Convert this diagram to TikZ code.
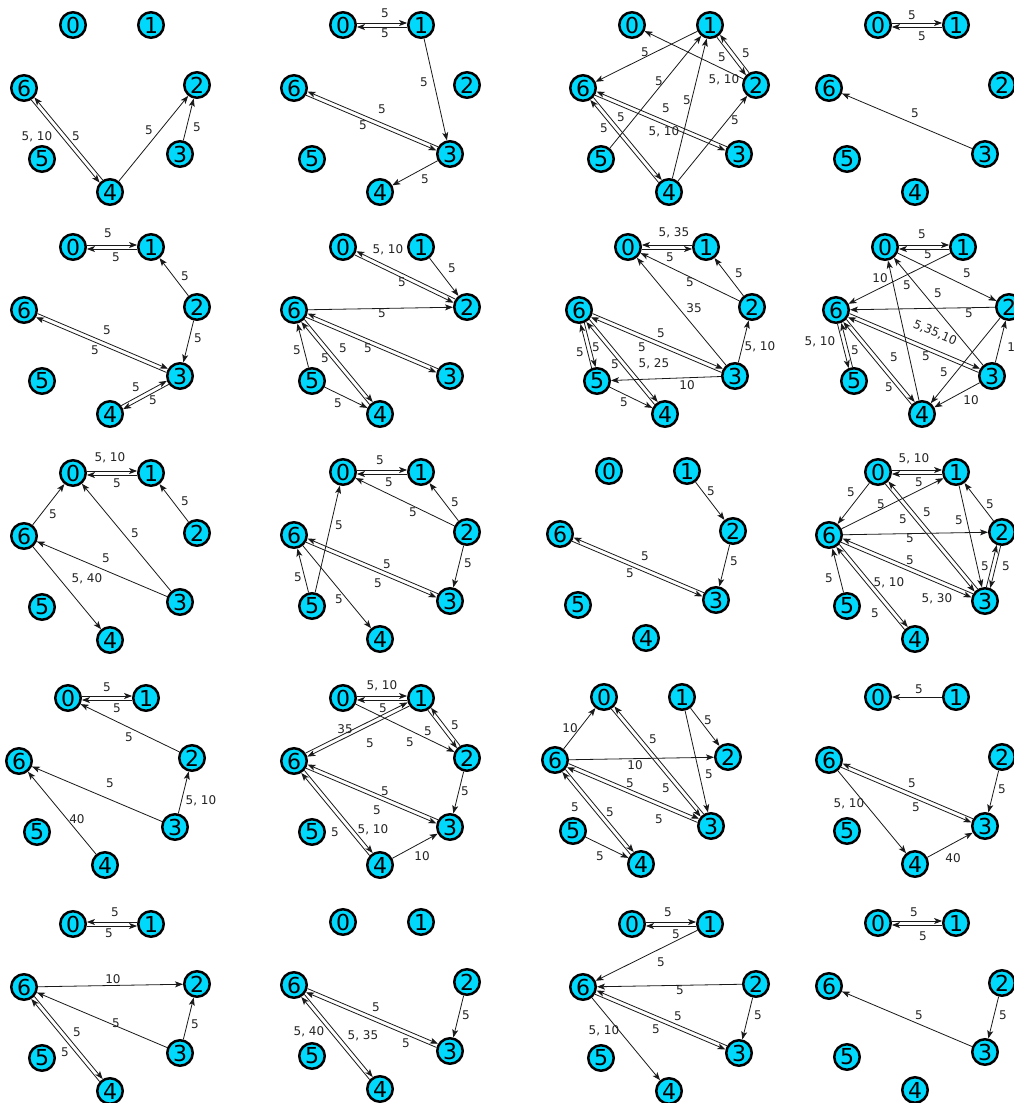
\documentclass[tikz,border=0pt]{standalone}
\usepackage{fontspec}
\setmainfont{DejaVu Sans}
\usepackage{tikz}
\usetikzlibrary{arrows.meta,calc}
\definecolor{VtxFill}{RGB}{0,216,252}
\definecolor{LblText}{RGB}{35,35,35}
\definecolor{ArcLine}{RGB}{25,25,25}
\tikzset{
  vtx/.style={circle,draw=black,line width=2.5pt,fill=VtxFill,minimum size=25.5pt,inner sep=0pt,font=\fontsize{22}{22}\selectfont},
  lbl/.style={font=\fontsize{12}{12}\selectfont,text=LblText,inner sep=0pt},
  arr/.style={-{Stealth[length=8pt,width=6pt,inset=2pt]},line width=0.8pt,draw=ArcLine},
}
% the seven vertices of one panel, at the shared layout
\newcommand{\vtxset}[1]{%
  \node[vtx] (#10) at (0,0) {0};
  \node[vtx] (#11) at (78,0) {1};
  \node[vtx] (#12) at (124,60) {2};
  \node[vtx] (#13) at (107,129) {3};
  \node[vtx] (#14) at (37,167) {4};
  \node[vtx] (#15) at (-31,134) {5};
  \node[vtx] (#16) at (-49,63) {6};}
% single arc: from, to, label position, label
\newcommand{\sedge}[5][]{\draw[arr] (#2) -- (#3) node[lbl,#1] at (#4) {#5};}
% one of a pair of parallel arcs: from, to, side offset, label position, label
\newcommand{\pedge}[6][]{\draw[arr,shorten <=13.9pt,shorten >=13.9pt] ($(#2)!#4pt!90:(#3)$) -- ($(#3)!#4pt!-90:(#2)$) node[lbl,#1] at (#5) {#6};}

\begin{document}
\begin{tikzpicture}[x=1pt,y=-1pt]
\fill[white] (0,0) rectangle (1014,1103);
\useasboundingbox (0,0) rectangle (1014,1103);
% row 1
\begin{scope}[shift={(73,25)}]
\vtxset{A}
\pedge{A6}{A4}{-2}{-36,112}{5, 10}
\pedge{A4}{A6}{-2}{3,111}{5}
\sedge{A4}{A2}{76,105}{5}
\sedge{A3}{A2}{124,102}{5}
\end{scope}
\begin{scope}[shift={(343,25)}]
\vtxset{B}
\pedge{B0}{B1}{2}{42,-12}{5}
\pedge{B1}{B0}{2}{42,8}{5}
\sedge{B1}{B3}{81,57}{5}
\pedge{B3}{B6}{-2}{39,84}{5}
\pedge{B6}{B3}{-2}{20,100}{5}
\sedge{B3}{B4}{82,154}{5}
\end{scope}
\begin{scope}[shift={(632,25)}]
\vtxset{C}
\sedge{C1}{C6}{13,27}{5}
\sedge{C2}{C0}{92,55}{5, 10}
\pedge{C1}{C2}{-2}{90,32}{5}
\pedge{C2}{C1}{-2}{114,28}{5}
\sedge{C5}{C1}{27,56}{5}
\sedge{C4}{C1}{55,75}{5}
\sedge{C4}{C2}{103,95}{5}
\pedge{C3}{C6}{-2}{34,83}{5}
\pedge{C6}{C3}{-2}{32,107}{5, 10}
\pedge{C6}{C4}{2}{-11,92}{5}
\pedge{C4}{C6}{2}{-28,103}{5}
\end{scope}
\begin{scope}[shift={(878,25)}]
\vtxset{D}
\pedge{D0}{D1}{2}{34,-10}{5}
\pedge{D1}{D0}{2}{44,11}{5}
\sedge{D3}{D6}{37,88}{5}
\end{scope}
% row 2
\begin{scope}[shift={(73,247)}]
\vtxset{E}
\pedge{E0}{E1}{2}{35,-14}{5}
\pedge{E1}{E0}{2}{43,10}{5}
\sedge{E2}{E1}{112,29}{5}
\sedge{E2}{E3}{125,91}{5}
\pedge{E6}{E3}{2}{34,83}{5}
\pedge{E3}{E6}{2}{22,103}{5}
\pedge{E4}{E3}{2}{63,140}{5}
\pedge{E3}{E4}{2}{80,153}{5}
\end{scope}
\begin{scope}[shift={(343,247)}]
\vtxset{F}
\pedge{F2}{F0}{-2}{45,3}{5, 10}
\pedge{F0}{F2}{-2}{59,35}{5}
\sedge{F1}{F2}{109,21}{5}
\sedge{F6}{F2}{39,66}{5}
\pedge{F6}{F3}{-2}{25,101}{5}
\draw[arr,shorten <=13.9pt,shorten >=13.9pt] ($(F3)!-2pt!90:(F6)$) -- ($(F6)!-2pt!-90:(F3)$);
\pedge{F6}{F4}{2}{0,101}{5}
\pedge{F4}{F6}{2}{-18,111}{5}
\sedge{F5}{F6}{-46,103}{5}
\sedge{F5}{F4}{-5,156}{5}
\end{scope}
\begin{scope}[shift={(628,247)}]
\vtxset{G}
\pedge{G1}{G0}{-2}{46,-14}{5, 35}
\pedge{G0}{G1}{-2}{42,10}{5}
\sedge{G2}{G0}{62,35}{5}
\sedge{G2}{G1}{111,26}{5}
\sedge{G3}{G0}{66,61}{35}
\sedge{G3}{G2}{132,100}{5, 10}
\pedge{G6}{G3}{2}{33,86}{5}
\pedge{G3}{G6}{2}{14,100}{5}
\sedge{G3}{G5}{59,138}{10}
\pedge{G6}{G5}{2}{-32,100}{5}
\pedge{G5}{G6}{2}{-48,105}{5}
\pedge{G6}{G4}{2}{26,117}{5, 25}
\pedge{G4}{G6}{2}{-13,117}{5}
\sedge{G5}{G4}{-4,155}{5}
\end{scope}
\begin{scope}[shift={(885,247)}]
\vtxset{H}
\pedge{H0}{H1}{2}{37,-13}{5}
\pedge{H1}{H0}{2}{43,7}{5}
\sedge{H0}{H2}{82,26}{5}
\sedge{H1}{H6}{22,38}{5}
\sedge{H4}{H0}{-5,31}{10}
\sedge{H3}{H0}{53,46}{5}
\sedge{H2}{H6}{84,66}{5}
\pedge[rotate=-23]{H6}{H3}{2}{50,86}{5,35,10}
\pedge{H3}{H6}{2}{41,109}{5}
\pedge{H6}{H5}{-2}{-65,95}{5, 10}
\pedge{H5}{H6}{-2}{-30,103}{5}
\pedge{H6}{H4}{2}{9,110}{5}
\pedge{H4}{H6}{2}{4,140}{5}
\sedge{H2}{H4}{59,125}{5}
\sedge{H3}{H4}{86,153}{10}
\sedge{H3}{H2}{130,100}{10}
\end{scope}
% row 3
\begin{scope}[shift={(73,473)}]
\vtxset{I}
\pedge{I0}{I1}{2}{37,-15}{5, 10}
\pedge{I1}{I0}{2}{44,10}{5}
\sedge{I2}{I1}{112,28}{5}
\sedge{I6}{I0}{-20,41}{5}
\sedge{I3}{I0}{62,60}{5}
\sedge{I3}{I6}{33,85}{5}
\sedge{I6}{I4}{14,106}{5, 40}
\end{scope}
\begin{scope}[shift={(343,472)}]
\vtxset{J}
\pedge{J0}{J1}{2}{37,-12}{5}
\pedge{J1}{J0}{2}{46,10}{5}
\sedge{J2}{J0}{70,40}{5}
\sedge{J2}{J1}{112,30}{5}
\sedge{J2}{J3}{125,91}{5}
\sedge{J5}{J0}{-4,53}{5}
\pedge{J3}{J6}{-2}{44,92}{5}
\pedge{J6}{J3}{-2}{35,111}{5}
\sedge{J5}{J6}{-45,105}{5}
\sedge{J6}{J4}{-4,127}{5}
\end{scope}
\begin{scope}[shift={(609,471)}]
\vtxset{K}
\sedge{K1}{K2}{102,20}{5}
\sedge{K2}{K3}{125,90}{5}
\pedge{K3}{K6}{-2}{36,85}{5}
\pedge{K6}{K3}{-2}{21,102}{5}
\end{scope}
\begin{scope}[shift={(878,472)}]
\vtxset{L}
\pedge{L0}{L1}{2}{36,-13}{5, 10}
\pedge{L1}{L0}{2}{41,10}{5}
\sedge{L0}{L6}{-27,20}{5}
\sedge{L6}{L1}{3,32}{5}
\pedge{L0}{L3}{-2}{25,47}{5}
\pedge{L3}{L0}{-2}{49,40}{5}
\sedge{L1}{L3}{81,48}{5}
\sedge{L2}{L1}{112,32}{5}
\sedge{L6}{L2}{32,66}{5}
\pedge{L3}{L2}{2}{107,94}{5}
\pedge{L2}{L3}{2}{128,94}{5}
\pedge{L3}{L6}{-2}{32,88}{5}
\pedge{L6}{L3}{-2}{59,127}{5, 30}
\pedge{L6}{L4}{2}{11,111}{5, 10}
\pedge{L4}{L6}{2}{-3,141}{5}
\sedge{L5}{L6}{-49,106}{5}
\end{scope}
% row 4
\begin{scope}[shift={(68,698)}]
\vtxset{M}
\pedge{M0}{M1}{2}{39,-11}{5}
\pedge{M1}{M0}{2}{49,10}{5}
\sedge{M2}{M0}{61,39}{5}
\sedge{M3}{M6}{42,85}{5}
\sedge{M3}{M2}{133,103}{5, 10}
\sedge{M4}{M6}{9,121}{40}
\end{scope}
\begin{scope}[shift={(343,698)}]
\vtxset{N}
\pedge{N0}{N1}{2}{39,-12}{5, 10}
\pedge{N1}{N0}{2}{40,10}{5}
\sedge{N0}{N2}{67,44}{5}
\pedge{N1}{N2}{-2}{85,33}{5}
\pedge{N2}{N1}{-2}{112,27}{5}
\pedge{N6}{N1}{2}{2,31}{35}
\pedge{N1}{N6}{2}{27,45}{5}
\sedge{N2}{N3}{122,93}{5}
\pedge{N3}{N6}{-2}{42,93}{5}
\pedge{N6}{N3}{-2}{34,112}{5}
\pedge{N6}{N4}{2}{30,132}{5, 10}
\pedge{N4}{N6}{2}{-8,134}{5}
\sedge{N4}{N3}{79,158}{10}
\end{scope}
\begin{scope}[shift={(604,697)}]
\vtxset{O}
\sedge{O6}{O0}{-34,31}{10}
\pedge{O0}{O3}{-2}{62,91}{5}
\pedge{O3}{O0}{-2}{49,42}{5}
\sedge{O1}{O2}{104,23}{5}
\sedge{O1}{O3}{105,77}{5}
\sedge{O6}{O2}{31,68}{10}
\pedge{O6}{O3}{2}{26,86}{5}
\pedge{O3}{O6}{2}{55,122}{5}
\pedge{O6}{O4}{2}{6,115}{5}
\pedge{O4}{O6}{2}{-29,110}{5}
\sedge{O5}{O4}{-4,159}{5}
\end{scope}
\begin{scope}[shift={(878,697)}]
\vtxset{P}
\sedge{P1}{P0}{41,-8}{5}
\pedge{P3}{P6}{-2}{34,86}{5}
\pedge{P6}{P3}{-2}{38,110}{5}
\sedge{P6}{P4}{-29,107}{5, 10}
\sedge{P2}{P3}{124,92}{5}
\sedge{P4}{P3}{75,161}{40}
\end{scope}
% row 5
\begin{scope}[shift={(73,924)}]
\vtxset{Q}
\pedge{Q1}{Q0}{-2}{42,-12}{5}
\pedge{Q0}{Q1}{-2}{36,9}{5}
\sedge{Q6}{Q2}{40,55}{10}
\sedge{Q3}{Q6}{43,99}{5}
\sedge{Q3}{Q2}{122,100}{5}
\pedge{Q6}{Q4}{2}{4,108}{5}
\pedge{Q4}{Q6}{2}{-8,128}{5}
\end{scope}
\begin{scope}[shift={(343,922)}]
\vtxset{R}
\pedge{R6}{R3}{2}{33,85}{5}
\pedge{R3}{R6}{2}{63,121}{5}
\sedge{R2}{R3}{123,93}{5}
\pedge{R6}{R4}{2}{20,114}{5, 35}
\pedge{R4}{R6}{2}{-34,110}{5, 40}
\end{scope}
\begin{scope}[shift={(632,924)}]
\vtxset{S}
\pedge{S0}{S1}{2}{36,-12}{5}
\pedge{S1}{S0}{2}{44,10}{5}
\sedge{S1}{S6}{29,38}{5}
\sedge{S2}{S6}{48,66}{5}
\sedge{S2}{S3}{126,91}{5}
\pedge{S3}{S6}{-2}{46,92}{5}
\pedge{S6}{S3}{-2}{24,105}{5}
\sedge{S6}{S4}{-28,107}{5, 10}
\end{scope}
\begin{scope}[shift={(878,923)}]
\vtxset{T}
\pedge{T0}{T1}{2}{36,-11}{5}
\pedge{T1}{T0}{2}{45,13}{5}
\sedge{T3}{T6}{41,92}{5}
\sedge{T2}{T3}{125,92}{5}
\end{scope}
\end{tikzpicture}
\end{document}
